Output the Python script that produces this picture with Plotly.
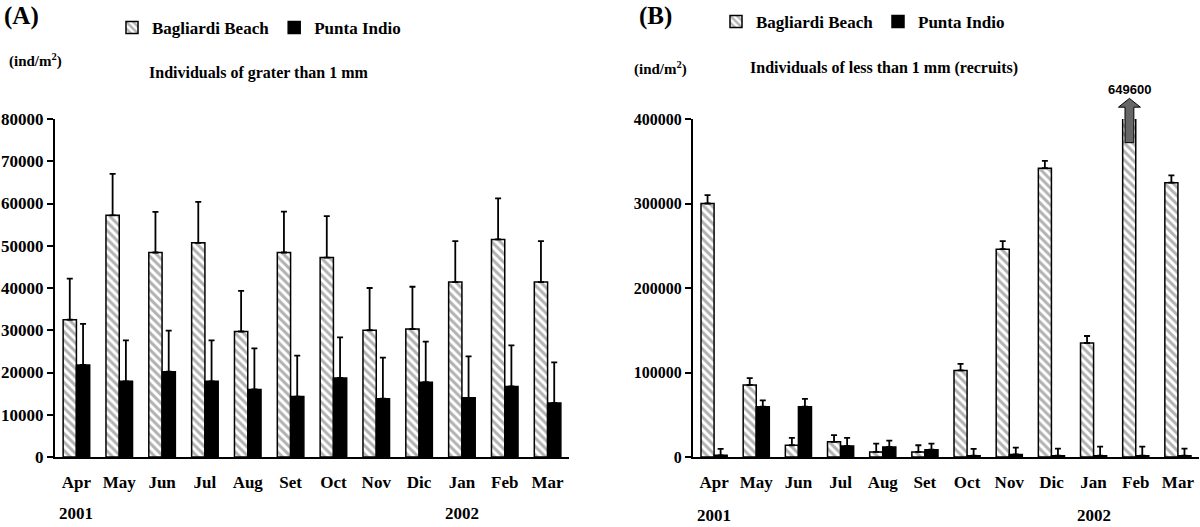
import plotly.graph_objects as go

# ---------------- data ----------------
months = ["Apr", "May", "Jun", "Jul", "Aug", "Set", "Oct", "Nov", "Dic", "Jan", "Feb", "Mar"]
year_labels = [("Apr", "2001"), ("Jan", "2002")]

# Panel A: individuals > 1 mm (ind/m2)
a_bagliardi = [32500, 57200, 48400, 50700, 29700, 48400, 47200, 30000, 30300, 41400, 51500, 41400]
a_bagliardi_sd = [9700, 9800, 9600, 9700, 9600, 9700, 9800, 10000, 10000, 9700, 9700, 9700]
a_punta = [21800, 17900, 20200, 17900, 16000, 14300, 18700, 13800, 17700, 14000, 16700, 12800]
a_punta_sd = [9700, 9700, 9700, 9700, 9700, 9700, 9600, 9700, 9600, 9800, 9700, 9600]

# Panel B: individuals < 1 mm (recruits) (ind/m2)
b_bagliardi = [300000, 85300, 13900, 17900, 6000, 6000, 102400, 246000, 341700, 134900, 649600, 324600]
b_bagliardi_sd = [10000, 8000, 8700, 7900, 9900, 7900, 7900, 9500, 8700, 8300, 0, 8700]
b_punta = [2000, 59500, 59500, 13100, 11900, 8700, 1500, 3000, 1500, 1500, 1500, 1500]
b_punta_sd = [7500, 7500, 9200, 9500, 7500, 7200, 8000, 8000, 8400, 10800, 10800, 8400]

a_ticks = [0, 10000, 20000, 30000, 40000, 50000, 60000, 70000, 80000]
b_ticks = [0, 100000, 200000, 300000, 400000]

# ---------------- styling ----------------
SERIF = "Liberation Serif"
STRIPE = dict(shape="\\", fgcolor="#666666", bgcolor="white", size=6, solidity=0.5)
W, H = 1200, 527
ML, MR, MT, MB = 55, 1, 119, 70
PW, PH = W - ML - MR, H - MT - MB


def px_x(p):
    return (p - ML) / PW


def px_y(p):
    return (H - MB - p) / PH


fig = go.Figure()


def add_pair(bb, bb_sd, pi, pi_sd, xa, ya, legend):
    fig.add_trace(go.Bar(
        x=months, y=bb, name="Bagliardi Beach", xaxis=xa, yaxis=ya, legend=legend,
        marker=dict(color="white", pattern=STRIPE, line=dict(color="black", width=1.5)),
        error_y=dict(type="data", array=bb_sd, arrayminus=[0] * len(bb_sd), symmetric=False,
                     color="black", thickness=1.8, width=3),
    ))
    fig.add_trace(go.Bar(
        x=months, y=pi, name="Punta Indio", xaxis=xa, yaxis=ya, legend=legend,
        marker=dict(color="black", line=dict(color="black", width=1.5)),
        error_y=dict(type="data", array=pi_sd, arrayminus=[0] * len(pi_sd), symmetric=False,
                     color="black", thickness=1.8, width=3),
    ))


add_pair(a_bagliardi, a_bagliardi_sd, a_punta, a_punta_sd, "x", "y", "legend")
add_pair(b_bagliardi, b_bagliardi_sd, b_punta, b_punta_sd, "x2", "y2", "legend2")

tickfont = dict(family=SERIF, size=17, color="black", weight="bold")
xcommon = dict(type="category", showgrid=False, zeroline=False, showline=True, linecolor="black",
               linewidth=2, ticks="", tickfont=tickfont, ticklabelstandoff=9,
               range=[-0.5, len(months) - 0.5])
ycommon = dict(showgrid=False, zeroline=False, showline=True, linecolor="black", linewidth=2,
               ticks="outside", ticklen=6, tickwidth=2, tickcolor="black")

legend_common = dict(orientation="h", yanchor="middle", xanchor="left", bgcolor="rgba(0,0,0,0)",
                     font=dict(family=SERIF, size=17, color="black", weight="bold"),
                     itemclick=False, itemdoubleclick=False)

ann = []
lab = dict(family=SERIF, color="black", weight="bold")
ann.append(dict(text="(A)", x=px_x(21), y=px_y(16), font=dict(size=25, **lab)))
ann.append(dict(text="(B)", x=px_x(655), y=px_y(16), font=dict(size=25, **lab)))
ann.append(dict(text="(ind/m<sup>2</sup>)", x=px_x(35), y=px_y(60), font=dict(size=15, **lab)))
ann.append(dict(text="(ind/m<sup>2</sup>)", x=px_x(660), y=px_y(68), font=dict(size=15, **lab)))
ann.append(dict(text="Individuals of grater than 1 mm", x=px_x(259), y=px_y(73), font=dict(size=16, **lab)))
ann.append(dict(text="Individuals of less than 1 mm (recruits)", x=px_x(884), y=px_y(68), font=dict(size=16, **lab)))
for a in ann:
    a.update(xref="paper", yref="paper", showarrow=False, xanchor="center", yanchor="middle")

for xref, ypx in (("x", 513), ("x2", 515)):
    for m, yr in year_labels:
        ann.append(dict(text=yr, x=m, xref=xref, y=px_y(ypx), yref="paper", showarrow=False,
                        xanchor="center", yanchor="middle", font=dict(size=17, **lab)))

# off-scale value marker (block arrow + value) for bars above the axis maximum in panel B
b_max = b_ticks[-1]
off_i = [i for i, v in enumerate(b_bagliardi) if v > b_max]
shapes = []
for i in off_i:
    xc = i - 0.15
    y0 = 0.93
    yb = 1.035
    yt = 1.061
    bw, hw = 0.105, 0.26
    path = (f"M{xc-bw},{y0} L{xc-bw},{yb} L{xc-hw},{yb} L{xc},{yt} L{xc+hw},{yb} "
            f"L{xc+bw},{yb} L{xc+bw},{y0} Z")
    shapes.append(dict(type="path", path=path, xref="x2", yref="paper",
                       fillcolor="#666666", line=dict(color="black", width=1), layer="above"))
    ann.append(dict(text=f"{b_bagliardi[i]}", x=xc, xref="x2", y=px_y(90), yref="paper",
                    showarrow=False, xanchor="center", yanchor="middle",
                    font=dict(family="Liberation Sans", size=13, color="black", weight="bold")))

fig.update_layout(
    width=W, height=H, margin=dict(l=ML, r=MR, t=MT, b=MB),
    paper_bgcolor="white", plot_bgcolor="white",
    barmode="group", bargap=0.38, bargroupgap=0,
    xaxis=dict(domain=[0, px_x(569)], anchor="y", **xcommon),
    xaxis2=dict(domain=[px_x(693), 1], anchor="y2", **xcommon),
    yaxis=dict(anchor="x", range=[0, a_ticks[-1]], tickvals=a_ticks, ticktext=[str(t) for t in a_ticks],
               tickfont=dict(family=SERIF, size=17, color="black", weight="bold"), **ycommon),
    yaxis2=dict(anchor="x2", range=[0, b_max], tickvals=b_ticks, ticktext=[str(t) for t in b_ticks],
                tickfont=dict(family=SERIF, size=16, color="black", weight="bold"), **ycommon),
    legend=dict(x=px_x(112), y=px_y(28), **legend_common),
    legend2=dict(x=px_x(716), y=px_y(22), entrywidth=117, **legend_common),
    annotations=ann,
    shapes=shapes,
    showlegend=True,
)

fig.write_html("out.html", config={"displayModeBar": False},
               post_script="document.body.style.margin='0';document.body.style.overflow='hidden';")
